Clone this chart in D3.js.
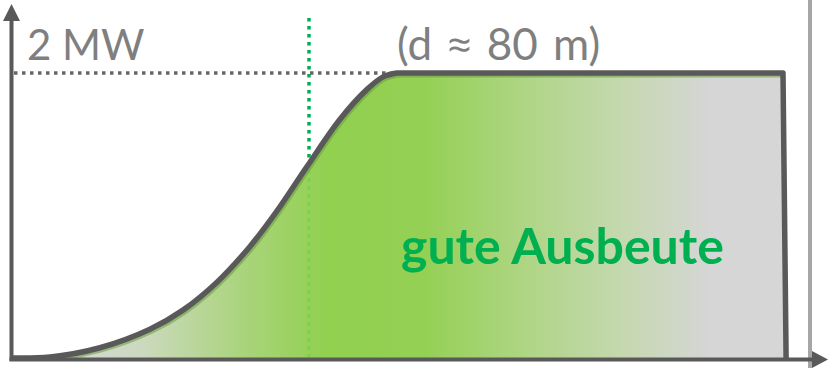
<!DOCTYPE html>
<html>
<head>
<meta charset="utf-8">
<script src="https://cdn.jsdelivr.net/npm/d3@7"></script>
<style>
  html, body { margin: 0; padding: 0; background: #fff; }
  svg { display: block; }
</style>
</head>
<body>
<svg id="chart" width="828" height="368"></svg>
<script>
// Power curve of a 2 MW wind turbine (rotor diameter about 80 m)
const windSpeed = [0, 1.26, 2.88, 4.5, 5.57, 6.67, 7.74, 8.61, 9.59, 10.65, 11.53, 12.05, 12.5, 25.0, 25.1];
const powerMW   = [0, 0.007, 0.072, 0.202, 0.336, 0.532, 0.783, 1.031, 1.345, 1.674, 1.885, 1.973, 2.0, 2.0, 0];
const ratedPower = 2;
const markerSpeed = 9.65;
const labels = { rated: "2 MW", diameterPre: "(d ", approx: "≈", diameterPost: " 80 m)", yield: "gute Ausbeute" };

const data = windSpeed.map((v, i) => ({ v, p: powerMW[i] }));
// rising part (smooth) up to the first point at rated power, then straight segments
const ratedIdx = powerMW.indexOf(ratedPower);
const rising = data.slice(0, ratedIdx + 1);
const tail = data.slice(ratedIdx + 1);

const svg = d3.select("#chart");
const x = d3.scaleLinear().domain([0, 25]).range([11, 783]);
const y = d3.scaleLinear().domain([0, ratedPower]).range([358, 73]);

const dark = "#595959";
const green = "#00b050";
const font = "Lato, 'Open Sans', sans-serif";

const riseLine = d3.line()
  .x(d => x(d.v)).y(d => y(d.p))
  .curve(d3.curveCatmullRom.alpha(0.5));
const tailPath = tail.map(d => `L${x(d.v)},${y(d.p)}`).join("");
const curvePath = riseLine(rising) + tailPath;
const last = data[data.length - 1];
const areaPath = curvePath + `L${x(last.v)},${y(0)}L${x(data[0].v)},${y(0)}Z`;

const defs = svg.append("defs");
const grad = defs.append("linearGradient")
  .attr("id", "yieldGrad")
  .attr("gradientUnits", "userSpaceOnUse")
  .attr("x1", 60).attr("x2", 760).attr("y1", 0).attr("y2", 0);
[
  [0.00, "#d8d8d8"],
  [0.12, "#cbd9bd"],
  [0.26, "#aad47c"],
  [0.38, "#92d050"],
  [0.52, "#94d054"],
  [0.66, "#aed583"],
  [0.80, "#c4d8ae"],
  [0.93, "#d6d6d6"],
  [1.00, "#d6d6d6"]
].forEach(([o, c]) => grad.append("stop").attr("offset", o).attr("stop-color", c));

defs.append("clipPath").attr("id", "areaClip")
  .append("path").attr("d", areaPath);

// right-hand boundary line
svg.append("line")
  .attr("x1", 810).attr("x2", 810).attr("y1", 0).attr("y2", 368)
  .attr("stroke", "#a6a6a6").attr("stroke-width", 4);

// marker wind speed (dotted green), behind the fill
const markerLine = sel => sel
  .attr("x1", x(markerSpeed)).attr("x2", x(markerSpeed))
  .attr("y1", 18).attr("y2", 358)
  .attr("stroke", green).attr("stroke-width", 3.5)
  .attr("stroke-dasharray", "3.5 4.5");
svg.append("line").call(markerLine);

// rated power guide
svg.append("line")
  .attr("x1", 14).attr("x2", x(12.3))
  .attr("y1", y(ratedPower)).attr("y2", y(ratedPower))
  .attr("stroke", "#666").attr("stroke-width", 3.5)
  .attr("stroke-dasharray", "3.5 4.5");

// filled area under the power curve
svg.append("path")
  .attr("d", areaPath)
  .attr("fill", "url(#yieldGrad)");

// marker line seen faintly through the fill
svg.append("line").call(markerLine)
  .attr("clip-path", "url(#areaClip)")
  .attr("stroke", "#6ccf4a").attr("opacity", 0.55);

// soft shadow of the outline inside the fill
svg.append("path")
  .attr("d", curvePath)
  .attr("clip-path", "url(#areaClip)")
  .attr("transform", "translate(1.5,1.8)")
  .attr("fill", "none")
  .attr("stroke", "#6f9f48").attr("stroke-width", 5.5).attr("opacity", 0.6);

// power curve outline
svg.append("path")
  .attr("d", curvePath)
  .attr("fill", "none")
  .attr("stroke", dark).attr("stroke-width", 5.5)
  .attr("stroke-linejoin", "round");

// axes with arrow heads
svg.append("line")
  .attr("x1", 11.5).attr("x2", 11.5).attr("y1", 361).attr("y2", 16)
  .attr("stroke", dark).attr("stroke-width", 4);
svg.append("path")
  .attr("d", "M3,21 L11.5,4 L20,21 Z").attr("fill", dark);
svg.append("line")
  .attr("x1", 9.5).attr("x2", 818).attr("y1", 359.5).attr("y2", 359.5)
  .attr("stroke", dark).attr("stroke-width", 4);
svg.append("path")
  .attr("d", "M812,351 L828,359.5 L812,368 Z").attr("fill", dark);

// labels
svg.append("text")
  .attr("x", 27).attr("y", 60)
  .attr("font-family", font).attr("font-size", 42)
  .attr("fill", "#7f7f7f")
  .text(labels.rated);
const dia = svg.append("text")
  .attr("x", 397).attr("y", 60)
  .attr("font-family", font).attr("font-size", 44)
  .attr("word-spacing", 4)
  .attr("fill", "#7f7f7f");
dia.append("tspan").text(labels.diameterPre);
dia.append("tspan").attr("font-family", "'Open Sans', sans-serif").attr("font-size", 42).text(labels.approx);
dia.append("tspan").text(labels.diameterPost);
svg.append("text")
  .attr("x", 401).attr("y", 264)
  .attr("font-family", font).attr("font-size", 50).attr("font-weight", "bold")
  .attr("fill", green)
  .text(labels.yield);
</script>
</body>
</html>
